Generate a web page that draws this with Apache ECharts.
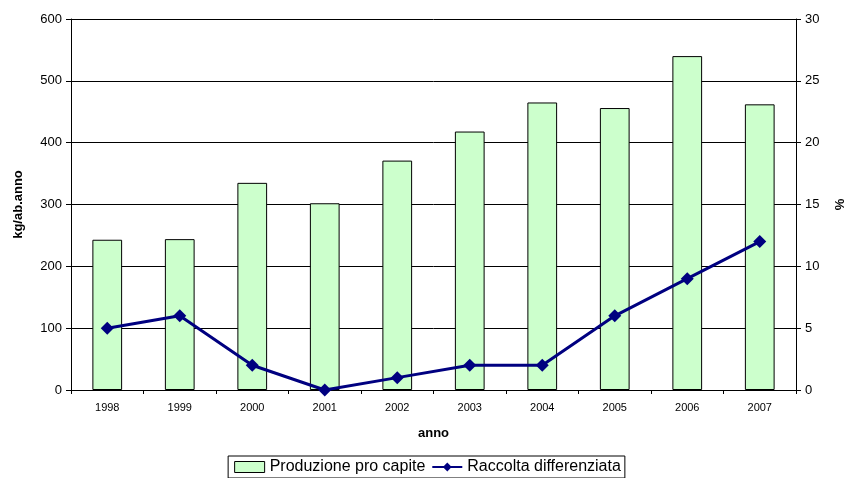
<!DOCTYPE html>
<html><head><meta charset="utf-8">
<script src="https://cdn.jsdelivr.net/npm/echarts@6/dist/echarts.min.js"></script>
<style>html,body{margin:0;padding:0;background:#fff}#c{width:855px;height:478px}</style>
</head><body><div id="c"></div>
<script>
const years = ['1998','1999','2000','2001','2002','2003','2004','2005','2006','2007'];
const produzione = [243, 244, 335, 302, 371, 418, 465, 456, 540, 462];
const raccolta = [5, 6, 2, 0, 1, 2, 2, 6, 9, 12];
const leftTicks = [0, 100, 200, 300, 400, 500, 600];
const rightTicks = [0, 5, 10, 15, 20, 25, 30];

const font = 'Liberation Sans, Arial, sans-serif';
const chart = echarts.init(document.getElementById('c'), null, {renderer: 'canvas'});
chart.setOption({
  animation: false,
  backgroundColor: '#fff',
  textStyle: {fontFamily: font},
  grid: {left: 71, right: 52, top: 19, bottom: 88, containLabel: false},
  legend: {
    bottom: 0, left: 'center',
    borderColor: '#000', borderWidth: 1, padding: [3, 4, 3, 6],
    itemGap: 6, itemWidth: 30, itemHeight: 11,
    textStyle: {fontFamily: font, fontSize: 16, color: '#000'},
    data: [
      {name: 'Produzione pro capite', icon: 'rect', itemStyle: {color: '#CCFFCC', borderColor: '#000', borderWidth: 1}},
      {name: 'Raccolta differenziata'}
    ]
  },
  xAxis: {
    type: 'category', data: years,
    name: 'anno', nameLocation: 'middle', nameGap: 37,
    nameTextStyle: {fontFamily: font, fontWeight: 'bold', fontSize: 13, color: '#000'},
    axisLine: {lineStyle: {color: '#000', width: 1}},
    axisTick: {show: true, inside: false, length: 4, lineStyle: {color: '#000'}},
    axisLabel: {color: '#000', fontSize: 11, margin: 12, fontFamily: font},
    splitLine: {show: false}
  },
  yAxis: [
    {
      type: 'value', min: 0, max: 600, interval: 100,
      name: 'kg/ab.anno', nameLocation: 'middle', nameGap: 46, nameRotate: 90,
      nameTextStyle: {fontFamily: font, fontWeight: 'bold', fontSize: 13, color: '#000'},
      axisLine: {show: true, lineStyle: {color: '#000'}},
      axisTick: {show: true, length: 5, lineStyle: {color: '#000'}},
      axisLabel: {color: '#000', fontSize: 13, margin: 9, fontFamily: font},
      splitLine: {show: true, lineStyle: {color: '#000', width: 1}}
    },
    {
      type: 'value', min: 0, max: 30, interval: 5, position: 'right',
      name: '%', nameLocation: 'middle', nameGap: 38, nameRotate: 90,
      nameTextStyle: {fontFamily: font, fontWeight: 'bold', fontSize: 13, color: '#000'},
      axisLine: {show: true, lineStyle: {color: '#000'}},
      axisTick: {show: true, length: 5, lineStyle: {color: '#000'}},
      axisLabel: {color: '#000', fontSize: 13, margin: 9, fontFamily: font},
      splitLine: {show: false}
    }
  ],
  series: [
    {
      name: 'Produzione pro capite', type: 'bar', data: produzione,
      yAxisIndex: 0, barWidth: '41%',
      itemStyle: {color: '#CCFFCC', borderColor: '#000', borderWidth: 1}
    },
    {
      name: 'Raccolta differenziata', type: 'line', data: raccolta,
      yAxisIndex: 1, symbol: 'diamond', symbolSize: 13,
      lineStyle: {color: '#000080', width: 3}, itemStyle: {color: '#000080'}
    }
  ]
});
</script></body></html>
